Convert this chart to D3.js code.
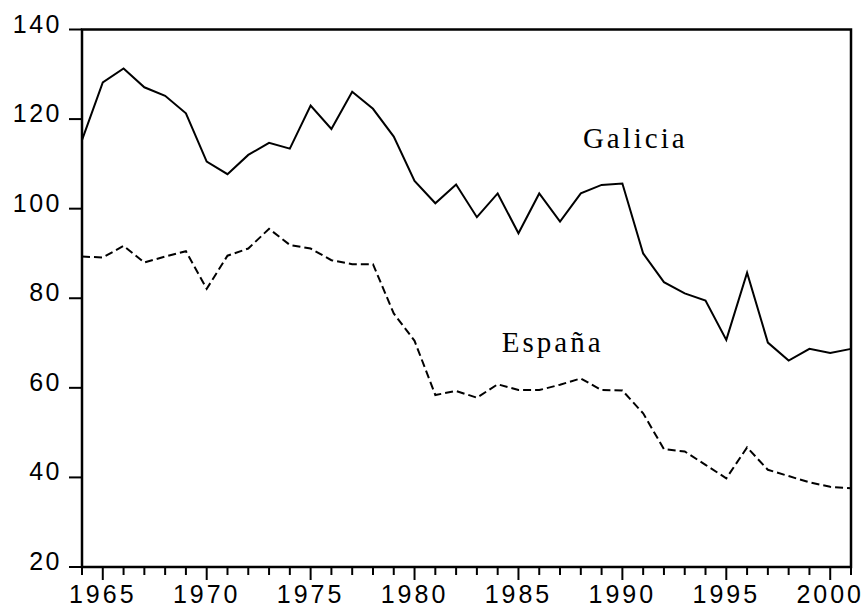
<!DOCTYPE html>
<html>
<head>
<meta charset="utf-8">
<script src="https://cdn.jsdelivr.net/npm/d3@7"></script>
<style>
    body { margin: 0; background: #fff; }
    svg { display: block; }
</style>
</head>
<body>
<div id="chart"></div>
<script>
// Data
const years = d3.range(1964, 2002);
const galicia = [115.3, 128.2, 131.3, 127.1, 125.2, 121.3, 110.5, 107.7, 112.0, 114.7,
    113.4, 123.0, 117.8, 126.1, 122.3, 116.1, 106.2, 101.2, 105.4, 98.1,
    103.4, 94.5, 103.4, 97.1, 103.4, 105.3, 105.6, 90.0, 83.6, 81.1,
    79.5, 70.7, 85.7, 70.1, 66.1, 68.7, 67.8, 68.7];
const espana = [89.3, 89.1, 91.7, 88.0, 89.3, 90.5, 82.1, 89.5, 91.1, 95.5,
    91.9, 91.1, 88.5, 87.6, 87.6, 76.6, 70.5, 58.4, 59.3, 57.8,
    60.8, 59.5, 59.5, 60.7, 62.1, 59.5, 59.4, 54.3, 46.3, 45.8,
    42.8, 39.8, 46.7, 41.7, 40.3, 38.9, 37.9, 37.6];
const yTicks = [20, 40, 60, 80, 100, 120, 140];
const xTicks = [1965, 1970, 1975, 1980, 1985, 1990, 1995, 2000];
const seriesLabels = [
    { name: "Galicia", year: 1988.1, value: 113.5 },
    { name: "España", year: 1984.2, value: 68.0 }
];

function drawChart() {
    const width = 864, height = 609;
    const left = 82, right = 851, top = 29.5, bottom = 567;

    const svg = d3.select("#chart").append("svg")
        .attr("width", width)
        .attr("height", height);

    const x = d3.scaleLinear().domain([1964, 2001]).range([left, right]);
    const y = d3.scaleLinear().domain([20, 140]).range([bottom, top]);

    // Lines
    const line = d3.line()
        .x((d, i) => x(years[i]))
        .y(d => y(d));

    svg.append("path")
        .datum(galicia)
        .attr("d", line)
        .attr("fill", "none")
        .attr("stroke", "#000")
        .attr("stroke-width", 2);

    svg.append("path")
        .datum(espana)
        .attr("d", line)
        .attr("fill", "none")
        .attr("stroke", "#000")
        .attr("stroke-width", 2)
        .attr("stroke-dasharray", "8,4");

    // Frame
    svg.append("rect")
        .attr("x", left)
        .attr("y", top)
        .attr("width", right - left)
        .attr("height", bottom - top)
        .attr("fill", "none")
        .attr("stroke", "#000")
        .attr("stroke-width", 2.5);

    // Y axis ticks and labels
    svg.selectAll(".ytick")
        .data(yTicks)
        .enter()
        .append("line")
        .attr("class", "ytick")
        .attr("x1", left - 13)
        .attr("x2", left)
        .attr("y1", d => y(d))
        .attr("y2", d => y(d))
        .attr("stroke", "#000")
        .attr("stroke-width", 2);

    svg.selectAll(".ylabel")
        .data(yTicks)
        .enter()
        .append("text")
        .attr("class", "ylabel")
        .text(d => d)
        .attr("x", 62)
        .attr("y", d => y(d) + 3)
        .attr("text-anchor", "end")
        .style("font-family", "'Liberation Sans', Arial, sans-serif")
        .style("font-size", "25px")
        .style("letter-spacing", "2.5px")
        .attr("fill", "#000");

    // X axis ticks: minor every year, major every 5 years
    svg.selectAll(".xtick")
        .data(years)
        .enter()
        .append("line")
        .attr("class", "xtick")
        .attr("x1", d => x(d))
        .attr("x2", d => x(d))
        .attr("y1", bottom)
        .attr("y2", d => xTicks.includes(d) ? bottom + 13 : bottom + 8)
        .attr("stroke", "#000")
        .attr("stroke-width", 2);

    svg.selectAll(".xlabel")
        .data(xTicks)
        .enter()
        .append("text")
        .attr("class", "xlabel")
        .text(d => d)
        .attr("x", d => x(d))
        .attr("y", 603)
        .attr("text-anchor", "middle")
        .style("font-family", "'Liberation Sans', Arial, sans-serif")
        .style("font-size", "25px")
        .style("letter-spacing", "3px")
        .attr("fill", "#000");

    // Series names
    svg.selectAll(".series-label")
        .data(seriesLabels)
        .enter()
        .append("text")
        .attr("class", "series-label")
        .text(d => d.name)
        .attr("x", d => x(d.year))
        .attr("y", d => y(d.value))
        .style("font-family", "'Liberation Serif', 'Times New Roman', serif")
        .style("font-size", "29px")
        .style("letter-spacing", "3px")
        .attr("fill", "#000");
}

drawChart();
</script>
</body>
</html>
